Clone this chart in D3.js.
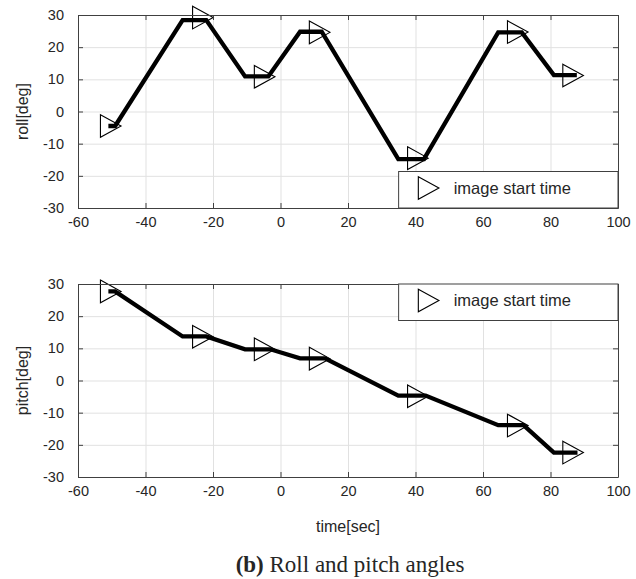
<!DOCTYPE html>
<html>
<head>
<meta charset="utf-8">
<script src="https://cdn.jsdelivr.net/npm/d3@7"></script>
<style>
  body { margin: 0; background: #fff; }
  text { font-family: "Liberation Sans", Arial, sans-serif; fill: #262626; }
</style>
</head>
<body>
<div id="chart"></div>
<script>
var W = 636, H = 579;

// data
var rollTime  = [-51, -49, -29, -22, -10.5, -3.6, 5.8, 12.2, 34.9, 42.5, 64.5, 71.5, 81, 87.8];
var rollDeg   = [-4.5, -4.5, 28.4, 28.4, 10.9, 10.9, 24.8, 24.8, -14.8, -14.8, 24.6, 24.6, 11.3, 11.3];
var pitchTime = [-51, -49, -29, -22, -10.5, -3, 5.8, 13.2, 34.9, 43, 64.5, 72, 81, 88];
var pitchDeg  = [27.7, 27.7, 13.7, 13.7, 9.7, 9.7, 6.9, 6.9, -4.7, -4.7, -13.9, -13.9, -22.4, -22.4];

var startTime  = [-50.3, -23, -4.7, 11.6, 40.7, 70.3, 86.7];
var startRoll  = [-4.5, 29.2, 10.8, 24.6, -14.5, 24.7, 11.2];
var startPitch = [27.7, 13.6, 9.7, 6.8, -4.9, -14.0, -22.4];

var xTicks = [-60, -40, -20, 0, 20, 40, 60, 80, 100];
var yTicks = [-30, -20, -10, 0, 10, 20, 30];

var svg = d3.select("#chart").append("svg")
    .attr("width", W)
    .attr("height", H);

var left = 78, right = 618;

var x = d3.scaleLinear().domain([-60, 100]).range([left, right]);

// plain hyphen minus, like the original
var fmt = function(d) { return String(d); };

function triangle(s) {
    return "M" + (-s) + "," + (-s * 1.1) + "L" + s + ",0L" + (-s) + "," + (s * 1.1) + "Z";
}

function panel(top, bottom, xs, ys, mx, my, label, legendTop) {
    var y = d3.scaleLinear().domain([-30, 30]).range([bottom, top]);
    var g = svg.append("g");
    var ht = bottom - top, wd = right - left;

    // grid
    g.append("g")
        .attr("transform", "translate(0," + bottom + ")")
        .call(d3.axisBottom(x).tickValues(xTicks).tickSize(-ht).tickFormat(""))
        .call(function(a) { a.select(".domain").remove(); })
        .selectAll("line").attr("stroke", "#e1e1e1");
    g.append("g")
        .attr("transform", "translate(" + left + ",0)")
        .call(d3.axisLeft(y).tickValues(yTicks).tickSize(-wd).tickFormat(""))
        .call(function(a) { a.select(".domain").remove(); })
        .selectAll("line").attr("stroke", "#e1e1e1");

    // line
    var pts = xs.map(function(d, i) { return [d, ys[i]]; });
    g.append("path")
        .datum(pts)
        .attr("fill", "none")
        .attr("stroke", "#000")
        .attr("stroke-width", 4.3)
        .attr("stroke-linejoin", "miter")
        .attr("d", d3.line().x(function(d) { return x(d[0]); }).y(function(d) { return y(d[1]); }));

    // markers
    g.selectAll(".mk").data(mx).enter().append("path")
        .attr("class", "mk")
        .attr("transform", function(d, i) { return "translate(" + x(d) + "," + y(my[i]) + ")"; })
        .attr("d", triangle(10.3))
        .attr("fill", "none")
        .attr("stroke", "#000")
        .attr("stroke-width", 1.1);

    // axes
    var axCol = "#404040";
    var xb = g.append("g").attr("transform", "translate(0," + bottom + ")")
        .call(d3.axisBottom(x).tickValues(xTicks).tickFormat(fmt).tickSizeInner(-5).tickSizeOuter(0).tickPadding(9));
    var xt = g.append("g").attr("transform", "translate(0," + top + ")")
        .call(d3.axisTop(x).tickValues(xTicks).tickSizeInner(-5).tickSizeOuter(0).tickFormat(""));
    var yl = g.append("g").attr("transform", "translate(" + left + ",0)")
        .call(d3.axisLeft(y).tickValues(yTicks).tickFormat(fmt).tickSizeInner(-5).tickSizeOuter(0).tickPadding(14));
    var yr = g.append("g").attr("transform", "translate(" + right + ",0)")
        .call(d3.axisRight(y).tickValues(yTicks).tickSizeInner(-5).tickSizeOuter(0).tickFormat(""));
    [xb, xt, yl, yr].forEach(function(a) {
        a.select(".domain").attr("stroke", axCol);
        a.selectAll("line").attr("stroke", axCol);
        a.selectAll("text")
            .style("font-family", "Liberation Sans, Arial, sans-serif")
            .style("font-size", "14.5px")
            .attr("fill", "#262626");
    });

    // y label
    g.append("text")
        .attr("transform", "translate(28," + ((top + bottom) / 2) + ") rotate(-90)")
        .attr("text-anchor", "middle")
        .style("font-size", "16px")
        .text(label);

    // legend
    var lg = g.append("g");
    var lx = x(35), ly = legendTop;
    lg.append("rect")
        .attr("x", lx).attr("y", ly)
        .attr("width", right - lx).attr("height", 36.5)
        .attr("fill", "#fff")
        .attr("stroke", axCol)
        .attr("stroke-width", 1);
    lg.append("path")
        .attr("transform", "translate(" + (lx + 30) + "," + (ly + 16.5) + ")")
        .attr("d", triangle(10.3))
        .attr("fill", "none")
        .attr("stroke", "#000")
        .attr("stroke-width", 1.1);
    lg.append("text")
        .attr("x", lx + 55).attr("y", ly + 22)
        .style("font-size", "16.5px")
        .text("image start time");
}

panel(15, 208, rollTime, rollDeg, startTime, startRoll, "roll[deg]", 171.5);
panel(284, 477, pitchTime, pitchDeg, startTime, startPitch, "pitch[deg]", 284);

svg.append("text")
    .attr("x", (left + right) / 2).attr("y", 532)
    .attr("text-anchor", "middle")
    .style("font-size", "16px")
    .text("time[sec]");

var cap = svg.append("text")
    .attr("x", 350).attr("y", 572)
    .attr("text-anchor", "middle")
    .style("font-family", "Liberation Serif, Times New Roman, serif")
    .style("font-size", "23px")
    .attr("fill", "#000");
cap.append("tspan").style("font-weight", "bold").text("(b)");
cap.append("tspan").text(" Roll and pitch angles");
</script>
</body>
</html>
